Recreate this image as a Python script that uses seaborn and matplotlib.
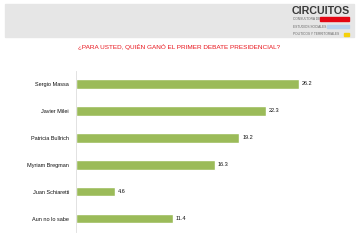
import matplotlib
matplotlib.use("Agg")
import matplotlib.pyplot as plt
import matplotlib.patches as mpatches
import pandas as pd
import seaborn as sns

# ------ DATA ------
candidatos = ["Sergio Massa", "Javier Milei", "Patricia Bullrich",
              "Myriam Bregman", "Juan Schiaretti", "Aun no lo sabe"]
porcentajes = [26.2, 22.3, 19.2, 16.3, 4.6, 11.4]

titulo = "¿PARA USTED, QUIÉN GANÓ EL PRIMER DEBATE PRESIDENCIAL?"

df = pd.DataFrame({"candidato": candidatos, "valor": porcentajes})

sns.set_style("white")
plt.rcParams["font.family"] = ["Liberation Sans", "DejaVu Sans"]

W, H = 362, 241
fig = plt.figure(figsize=(W / 100, H / 100), dpi=100)

# ------ HEADER ------
fig.patches.append(mpatches.Rectangle((5 / W, 1 - 37 / H), 349 / W, 33 / H,
                                      transform=fig.transFigure,
                                      color="#e6e6e6", zorder=0))
fig.text(292 / W, 1 - 10.5 / H, "CIRCUITOS", fontsize=7.7, fontweight="bold",
         color="#3a3a3a", va="center", ha="left")
sub_lines = ["CONSULTORA DE", "ESTUDIOS SOCIALES", "POLÍTICOS Y TERRITORIALES"]
for i, line in enumerate(sub_lines):
    fig.text(293 / W, 1 - (19 + i * 7.5) / H, line, fontsize=2.3,
             color="#666666", va="center", ha="left")
# color strips of the logo
fig.patches.append(mpatches.Rectangle((320 / W, 1 - 20.5 / H), 29 / W, 3.5 / H,
                                      transform=fig.transFigure, color="#e30613"))
fig.patches.append(mpatches.Rectangle((327 / W, 1 - 28 / H), 22 / W, 3 / H,
                                      transform=fig.transFigure, color="#b9d3ee"))
fig.patches.append(mpatches.Rectangle((344 / W, 1 - 35.5 / H), 5 / W, 3 / H,
                                      transform=fig.transFigure, color="#f5d10a"))

fig.text(179 / W, 1 - 47 / H, titulo, fontsize=4.6, color="#e8141c",
         ha="center", va="center")

# ------ CHART ------
ax = fig.add_axes([76 / W, 9 / H, 280 / W, 161.5 / H])
sns.barplot(data=df, x="valor", y="candidato", orient="h",
            color="#9bbb59", saturation=1, width=0.36, ax=ax)

ax.set_xlim(0, 280 / 8.5)
ax.set_ylim(5.5, -0.5)
ax.set_xlabel("")
ax.set_ylabel("")
ax.set_xticks([])
ax.tick_params(axis="y", length=0, labelsize=4, pad=5, labelcolor="#111111")
for s in ["top", "right", "bottom"]:
    ax.spines[s].set_visible(False)
ax.spines["left"].set_color("#dddddd")
ax.spines["left"].set_linewidth(0.6)
ax.patch.set_alpha(0)

for i, v in enumerate(porcentajes):
    ax.annotate(f"{v:.1f}", xy=(v, i), xytext=(2.2, 0), textcoords="offset points",
                fontsize=4, va="center", ha="left", color="#111111")

fig.savefig("out.png", dpi=100)
